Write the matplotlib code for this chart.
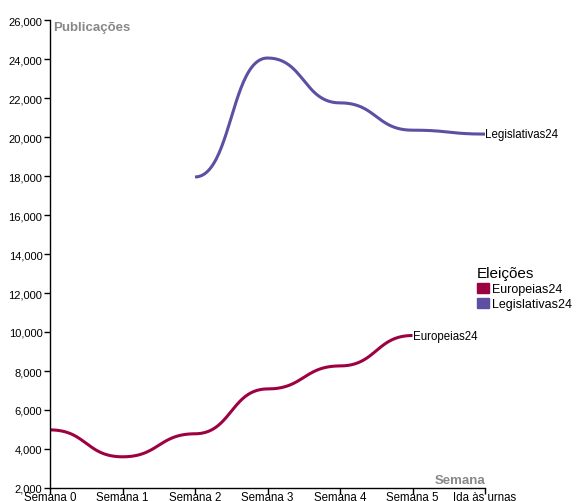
import numpy as np
import matplotlib.pyplot as plt
from matplotlib.patches import Patch

plt.rcParams['font.family'] = ['Liberation Sans', 'DejaVu Sans']

semanas = ['Semana 0', 'Semana 1', 'Semana 2', 'Semana 3', 'Semana 4', 'Semana 5', 'Ida às urnas']
europeias = [4980, 3600, 4780, 7080, 8260, 9820]
legislativas = [17950, 24050, 21750, 20350, 20150]
x_europeias = [0, 1, 2, 3, 4, 5]
x_legislativas = [2, 3, 4, 5, 6]

cor_europeias = '#9e0142'
cor_legislativas = '#5e4fa2'


def bump(xs, ys, n=50):
    # curva tipo d3.curveBumpX: tangente horizontal em cada ponto
    out_x, out_y = [], []
    t = np.linspace(0, 1, n)
    for i in range(len(xs) - 1):
        x0, x1, y0, y1 = xs[i], xs[i + 1], ys[i], ys[i + 1]
        xm = (x0 + x1) / 2
        bx = (1 - t)**3 * x0 + 3 * (1 - t)**2 * t * xm + 3 * (1 - t) * t**2 * xm + t**3 * x1
        by = (1 - t)**3 * y0 + 3 * (1 - t)**2 * t * y0 + 3 * (1 - t) * t**2 * y1 + t**3 * y1
        out_x.extend(bx)
        out_y.extend(by)
    return out_x, out_y


fig = plt.figure(figsize=(5.76, 5.02), dpi=100)
ax = fig.add_axes([50 / 576, 13 / 502, 435 / 576, 468 / 502])

cx, cy = bump(x_europeias, europeias)
ax.plot(cx, cy, color=cor_europeias, lw=2.2, solid_capstyle='butt')
cx, cy = bump(x_legislativas, legislativas)
ax.plot(cx, cy, color=cor_legislativas, lw=2.2, solid_capstyle='butt')

ax.text(x_europeias[-1], europeias[-1], 'Europeias24', fontsize=8.3, va='center', ha='left')
ax.text(x_legislativas[-1], legislativas[-1], 'Legislativas24', fontsize=8.3, va='center', ha='left')

ax.set_xlim(0, 6)
ax.set_ylim(2000, 26000)
ax.set_xticks(range(len(semanas)))
ax.set_xticklabels(semanas, fontsize=8.3)
ax.set_yticks(range(2000, 26001, 2000))
ax.set_yticklabels([f'{v:,}' for v in range(2000, 26001, 2000)], fontsize=8)
ax.tick_params(length=4.5, width=1, pad=1)
ax.tick_params(axis='x', pad=-2.5)
for lado in ['top', 'right']:
    ax.spines[lado].set_visible(False)
ax.spines['left'].set_linewidth(1)
ax.spines['bottom'].set_linewidth(1)
ax.patch.set_alpha(0)

fig.text(53 / 576, 1 - 28 / 502, 'Publicações', fontsize=9.5, fontweight='bold', color='#888888', va='center')
fig.text(485 / 576, 1 - 481 / 502, 'Semana', fontsize=9.5, fontweight='bold', color='#888888', va='center', ha='right')

handles = [Patch(color=cor_europeias, label='Europeias24'),
           Patch(color=cor_legislativas, label='Legislativas24')]
leg = fig.legend(handles=handles, title='Eleições', loc='upper left',
                 bbox_to_anchor=(466 / 576, 1 - 256 / 502), frameon=False,
                 fontsize=9, title_fontsize=11, handlelength=0.9, handleheight=0.9,
                 handletextpad=0.3, labelspacing=0.2)
leg._legend_box.align = 'left'

fig.savefig('out.png', dpi=100)
